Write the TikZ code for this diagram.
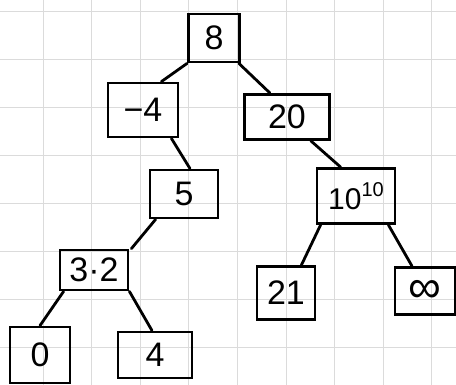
\documentclass[tikz,border=0pt]{standalone}
\usepackage{fontspec}
\setmainfont{Liberation Sans}
\begin{document}
\begin{tikzpicture}[x=1pt,y=-1pt,
  box/.style={draw=black,line width=2.8pt,inner sep=0pt,font=\fontsize{34}{34}\selectfont},
  link/.style={draw=black,line width=2.8pt,line cap=round},
  gridline/.style={draw=black!14,line width=1pt}]
\useasboundingbox (0,0) rectangle (456,385);
\fill[white] (0,0) rectangle (456,385);
% graph paper
\foreach \gx in {43,91.6,140.2,188.8,237.4,286,334.6,383.2,431.8}
  \draw[gridline] (\gx,0) -- (\gx,385);
\foreach \gy in {12,60,108,156,204,252,300,348}
  \draw[gridline] (0,\gy) -- (456,\gy);
% nodes
\node[box,minimum width=51pt,minimum height=48pt] (n8) at (214,38) {8};
\node[box,minimum width=70pt,minimum height=54pt] (m4) at (143,110) {−4};
\node[box,minimum width=85pt,minimum height=45pt] (n20) at (287,117) {20};
\node[box,minimum width=68pt,minimum height=48pt] (n5) at (184,194) {5};
\node[box,minimum width=78pt,minimum height=55pt] (n10) at (356,196) {\fontsize{30}{30}\selectfont 10\raisebox{0.45em}{\fontsize{20}{20}\selectfont 10}};
\node[box,minimum width=68pt,minimum height=40pt] (n32) at (94,270) {3·2};
\node[box,minimum width=58pt,minimum height=53pt] (n21) at (286,293) {21};
\node[box,minimum width=60pt,minimum height=47pt] (ninf) at (425,291) {\fontsize{46}{46}\selectfont ∞};
\node[box,minimum width=60pt,minimum height=56pt] (n0) at (40,355) {0};
\node[box,minimum width=74pt,minimum height=46pt] (n4) at (155,355) {4};
% connectors
\draw[link] (n8.south west) -- ([xshift=-18pt]m4.north east);
\draw[link] ([xshift=-2pt]n8.south east) -- ([xshift=-17pt]n20.north);
\draw[link] ([xshift=-8pt]m4.south east) -- ([xshift=6pt]n5.north);
\draw[link] ([xshift=-20pt]n20.south east) -- ([xshift=25pt]n10.north west);
\draw[link] ([xshift=7pt]n5.south west) -- ([xshift=2pt]n32.north east);
\draw[link] ([xshift=5pt]n32.south west) -- (n0.north);
\draw[link] (n32.south east) -- ([xshift=-3pt]n4.north);
\draw[link] ([xshift=5pt]n10.south west) -- ([xshift=-15pt]n21.north east);
\draw[link] ([xshift=-8pt]n10.south east) -- ([xshift=-13pt]ninf.north);
\end{tikzpicture}
\end{document}
